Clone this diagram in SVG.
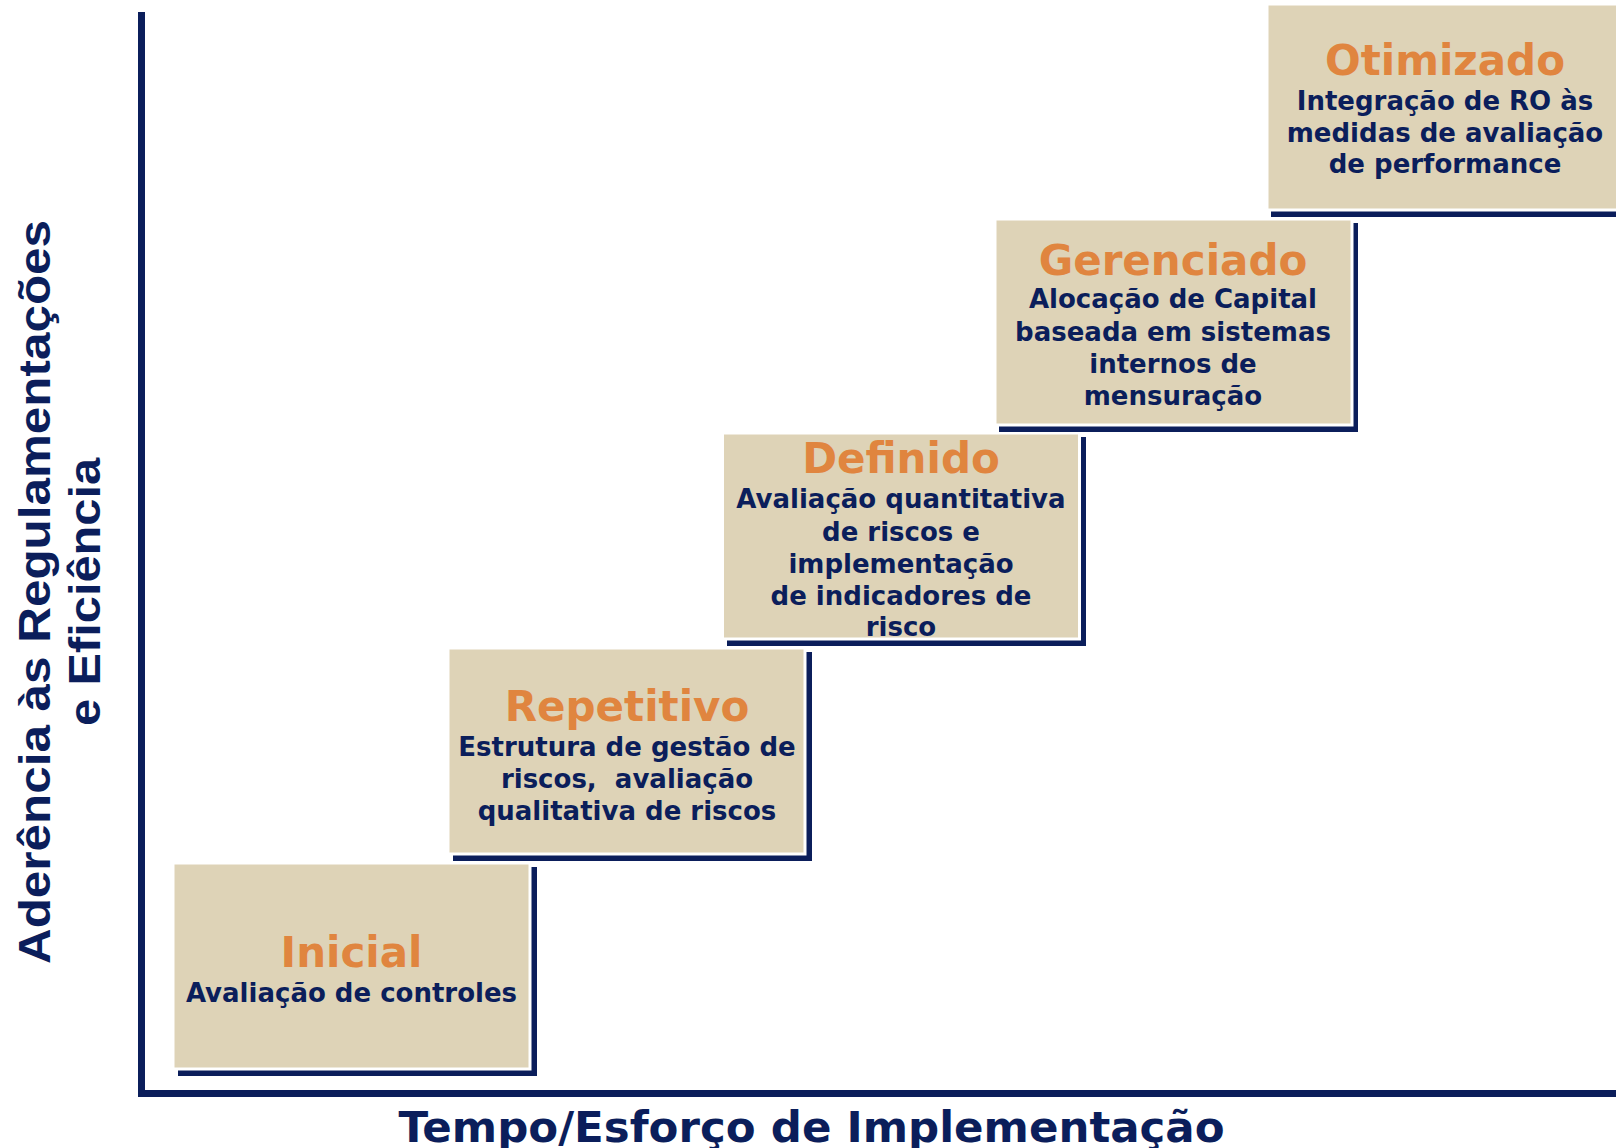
<svg xmlns="http://www.w3.org/2000/svg" width="1616" height="1148" viewBox="0 0 1616 1148">
<style>
.shadow{fill:#0B1E5B}
.box{fill:#DED3B7;stroke:#FFFFFF;stroke-width:3}
.title{font-family:"DejaVu Sans",Verdana,sans-serif;font-weight:bold;font-size:42px;fill:#E0853F;text-anchor:middle}
.desc{font-family:"DejaVu Sans",Verdana,sans-serif;font-weight:bold;font-size:26px;fill:#0B1E5B;text-anchor:middle}
.axis{stroke:#0B1E5B;stroke-width:7;fill:none}
.xlabel{font-family:"DejaVu Sans",Verdana,sans-serif;font-weight:bold;font-size:43.5px;fill:#0B1E5B;text-anchor:middle}
.ylabel{font-family:"Liberation Sans",Arial,sans-serif;font-weight:bold;font-size:45px;fill:#0B1E5B;text-anchor:middle}
</style>
<rect width="1616" height="1148" fill="#FFFFFF"/>
<g id="axes">
<line class="axis" x1="141.5" y1="12" x2="141.5" y2="1097"/>
<line class="axis" x1="138" y1="1093.5" x2="1616" y2="1093.5"/>
</g>
<g id="label-x">
<text class="xlabel" x="811.5" y="1141.7">Tempo/Esforço de Implementação</text>
</g>
<g id="label-y">
<text class="ylabel" transform="translate(50,592) rotate(-90)" textLength="744" lengthAdjust="spacingAndGlyphs">Aderência às Regulamentações</text>
<text class="ylabel" transform="translate(100,592) rotate(-90)" textLength="268" lengthAdjust="spacingAndGlyphs">e Eficiência</text>
</g>
<g id="inicial">
<rect class="shadow" x="178" y="867" width="359" height="209"/>
<rect class="box" x="173" y="863" width="357" height="206"/>
<text class="title" x="351.5" y="966.7">Inicial</text>
<text class="desc" x="351.5" y="1001.7">Avaliação de controles</text>
</g>
<g id="repetitivo">
<rect class="shadow" x="453" y="652" width="359" height="209"/>
<rect class="box" x="448" y="648" width="357" height="206"/>
<text class="title" x="627" y="720.7">Repetitivo</text>
<text class="desc" x="627" y="756">Estrutura de gestão de</text>
<text class="desc" x="627" y="788" xml:space="preserve">riscos,  avaliação</text>
<text class="desc" x="627" y="820">qualitativa de riscos</text>
</g>
<g id="definido">
<rect class="shadow" x="727" y="437" width="359" height="209"/>
<rect class="box" x="722.5" y="433" width="357" height="206"/>
<text class="title" x="901" y="473.3">Definido</text>
<text class="desc" x="901" y="508.3">Avaliação quantitativa</text>
<text class="desc" x="901" y="540.5">de riscos e</text>
<text class="desc" x="901" y="572.5">implementação</text>
<text class="desc" x="901" y="604.5">de indicadores de</text>
<text class="desc" x="901" y="635.5">risco</text>
</g>
<g id="gerenciado">
<rect class="shadow" x="999" y="223" width="359" height="209"/>
<rect class="box" x="995" y="219" width="357" height="206"/>
<text class="title" x="1173" y="275">Gerenciado</text>
<text class="desc" x="1173" y="308.3">Alocação de Capital</text>
<text class="desc" x="1173" y="340.5">baseada em sistemas</text>
<text class="desc" x="1173" y="372.5">internos de</text>
<text class="desc" x="1173" y="404.5">mensuração</text>
</g>
<g id="otimizado">
<rect class="shadow" x="1271" y="8" width="359" height="209"/>
<rect class="box" x="1267" y="4" width="357" height="206"/>
<text class="title" x="1445" y="75">Otimizado</text>
<text class="desc" x="1445" y="110">Integração de RO às</text>
<text class="desc" x="1445" y="141.7">medidas de avaliação</text>
<text class="desc" x="1445" y="173.3">de performance</text>
</g>
</svg>
